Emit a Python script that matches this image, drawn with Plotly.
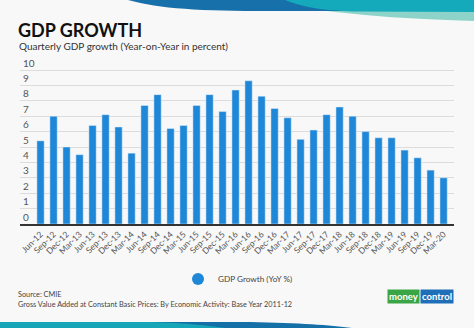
import plotly.graph_objects as go

quarters = ["Jun-12", "Sep-12", "Dec-12", "Mar-13", "Jun-13", "Sep-13", "Dec-13", "Mar-14",
            "Jun-14", "Sep-14", "Dec-14", "Mar-15", "Jun-15", "Sep-15", "Dec-15", "Mar-16",
            "Jun-16", "Sep-16", "Dec-16", "Mar-17", "Jun-17", "Sep-17", "Dec-17", "Mar-18",
            "Jun-18", "Sep-18", "Dec-18", "Mar-19", "Jun-19", "Sep-19", "Dec-19", "Mar-20"]
gdp_growth = [5.4, 7.0, 5.0, 4.5, 6.4, 7.1, 6.3, 4.6,
              7.7, 8.4, 6.2, 6.4, 7.7, 8.4, 7.3, 8.7,
              9.3, 8.3, 7.5, 6.9, 5.5, 6.1, 7.1, 7.6,
              7.0, 6.0, 5.6, 5.6, 4.8, 4.3, 3.5, 3.0]
y_ticks = list(range(0, 11))

W, H = 474, 328
ML, MR, MT, MB = 20, 20, 54, 104
PW, PH = W - ML - MR, H - MT - MB
Y_TOP = (H - MB - MT) / 15.4  # 15.4 px per unit, so that 10 sits at y=70


def px(x):
    return (x - ML) / PW


def py(y):
    return (H - MB - y) / PH


def path(pts_cmds):
    out = []
    for cmd, *coords in pts_cmds:
        vals = []
        for i in range(0, len(coords), 2):
            vals.append(f"{px(coords[i]):.5f},{py(coords[i+1]):.5f}")
        out.append(cmd + " " + " ".join(vals))
    return " ".join(out) + " Z"


BAR = "#1f87d8"
FONT = "Lato"

fig = go.Figure()
fig.add_trace(go.Bar(x=quarters, y=gdp_growth, marker_color=BAR, width=0.56,
                     showlegend=False, hoverinfo="x+y"))
fig.add_trace(go.Scatter(x=[None], y=[None], mode="markers", name="GDP Growth (YoY %)",
                         marker=dict(color=BAR, size=12, symbol="circle")))

shapes = [
    # top decorative bands
    dict(type="path", xref="paper", yref="paper", layer="below", line_width=0,
         fillcolor="#8ed3c9",
         path=path([("M", 255, 0), ("C", 330, 14, 400, 19, 474, 21), ("L", 474, 0)])),
    dict(type="path", xref="paper", yref="paper", layer="below", line_width=0,
         fillcolor="#1770aa",
         path=path([("M", 128, 0), ("C", 160, 9, 200, 11, 270, 11), ("L", 474, 11), ("L", 474, 0)])),
    dict(type="path", xref="paper", yref="paper", layer="below", line_width=0,
         fillcolor="#14a9bb",
         path=path([("M", 285, 0), ("C", 305, 8, 325, 11, 360, 11.5), ("L", 474, 12), ("L", 474, 0)])),
    # bottom decorative bands
    dict(type="path", xref="paper", yref="paper", layer="below", line_width=0,
         fillcolor="#1670a8",
         path=path([("M", 0, 322), ("L", 250, 322), ("C", 300, 323, 330, 325, 352, 328), ("L", 0, 328)])),
    dict(type="path", xref="paper", yref="paper", layer="below", line_width=0,
         fillcolor="#16a6b8",
         path=path([("M", 0, 322), ("L", 150, 322), ("C", 190, 323, 210, 326, 225, 328), ("L", 0, 328)])),
]

annotations = [
    dict(text="<b>GDP GROWTH</b>", x=px(16), y=py(30), xref="paper", yref="paper",
         xanchor="left", yanchor="middle", showarrow=False,
         font=dict(family=FONT, size=18, color="#111111")),
    dict(text="Quarterly GDP growth (Year-on-Year in percent)", x=px(17), y=py(46.5),
         xref="paper", yref="paper", xanchor="left", yanchor="middle", showarrow=False,
         font=dict(family=FONT, size=10, color="#333333")),
    dict(text="Source: CMIE", x=px(16), y=py(294), xref="paper", yref="paper",
         xanchor="left", yanchor="middle", showarrow=False,
         font=dict(family=FONT, size=7.3, color="#444444")),
    dict(text="Gross Value Added at Constant Basic Prices: By Economic Activity: Base Year 2011-12",
         x=px(16), y=py(304.5), xref="paper", yref="paper",
         xanchor="left", yanchor="middle", showarrow=False,
         font=dict(family=FONT, size=7.3, color="#444444")),
    dict(text="<b>money</b>", x=px(420), y=py(296), xref="paper", yref="paper",
         xanchor="right", yanchor="middle", showarrow=False, bgcolor="#3aa545",
         borderpad=1, font=dict(family=FONT, size=9.5, color="#ffffff")),
    dict(text="<b>control</b>", x=px(420), y=py(296), xref="paper", yref="paper",
         xanchor="left", yanchor="middle", showarrow=False, bgcolor="#1f6fb8",
         borderpad=1, font=dict(family=FONT, size=9.5, color="#ffffff")),
]

fig.update_layout(
    width=W, height=H,
    margin=dict(l=ML, r=MR, t=MT, b=MB),
    paper_bgcolor="#f8f8f8", plot_bgcolor="#f8f8f8",
    font=dict(family=FONT, color="#555555"),
    bargap=0.44,
    showlegend=True,
    legend=dict(orientation="h", x=px(238), xanchor="center", y=py(279), yanchor="middle",
                font=dict(family=FONT, size=8.2, color="#444444"), bgcolor="rgba(0,0,0,0)"),
    shapes=shapes,
    annotations=annotations,
)
fig.update_xaxes(type="category", range=[-1.58, 31.8], tickangle=-45,
                 tickfont=dict(family=FONT, size=8.5, color="#555555"),
                 showline=True, linecolor="#333333", linewidth=2, showgrid=False,
                 ticks="", fixedrange=True)
fig.update_yaxes(range=[0, Y_TOP], tickvals=y_ticks, ticklabelposition="inside top",
                 tickfont=dict(family=FONT, size=10, color="#555555"),
                 showgrid=True, gridcolor="#dcdcdc", gridwidth=1, zeroline=False,
                 showline=False, ticks="", fixedrange=True)

fig.write_html("out.html")
